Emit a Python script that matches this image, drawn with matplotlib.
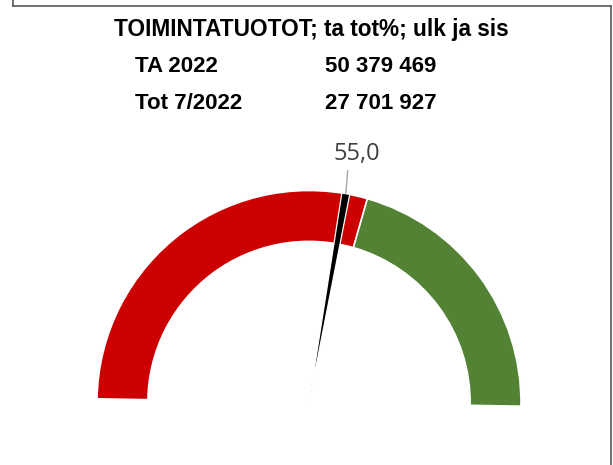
import matplotlib.pyplot as plt
import numpy as np
from matplotlib.lines import Line2D

# gauge data
title = 'TOIMINTATUOTOT; ta tot%; ulk ja sis'
row_labels = ['TA 2022', 'Tot 7/2022']
row_values = ['50 379 469', '27 701 927']
value = 55.0                      # tot% of budget
band_values = [58.33, 41.67]      # red up to 7/12 of the year, green after
band_colors = ['#CC0000', '#548235']
needle_width = 1.2

W, H = 613, 465
fig = plt.figure(figsize=(W / 100, H / 100), dpi=100)

# frame like the excel chart area
for xs, ys in [([13, 13], [0, 6]), ([13, 611], [6, 6]), ([611, 611], [6, 465])]:
    fig.add_artist(Line2D([x / W for x in xs], [1 - y / H for y in ys],
                          color='#595959', lw=1.2))

# header texts
fig.text(311 / W, 1 - 36 / H, title, ha='center', va='baseline',
         fontsize=16.3, fontweight='bold', family='Liberation Sans')
for i, (lab, val) in enumerate(zip(row_labels, row_values)):
    yb = 1 - (72.5 + i * 36) / H
    fig.text(135 / W, yb, lab, ha='left', va='baseline', fontsize=16,
             fontweight='bold', family='Liberation Sans')
    fig.text(325 / W, yb, val, ha='left', va='baseline', fontsize=16,
             fontweight='bold', family='Liberation Sans')

# gauge axes: 1 data unit = 212 px, centre at (309, 402.5)
R, cx, cy = 212, 309, 402.5
xlim, ylim = (-1.25, 1.25), (-0.29, 1.25)
ax = fig.add_axes([(cx + xlim[0] * R) / W, (H - cy + ylim[0] * R) / H,
                   (xlim[1] - xlim[0]) * R / W, (ylim[1] - ylim[0]) * R / H])

start = 179
ring = band_values + [sum(band_values)]
wedges, _ = ax.pie(ring, colors=band_colors + ['white'], startangle=start,
                   counterclock=False, radius=1.0,
                   wedgeprops=dict(width=0.24, edgecolor='white', linewidth=1.2))
wedges[-1].set_visible(False)

# needle = thin pie slice, like the excel trick
needle = [value - needle_width / 2, needle_width,
          2 * sum(band_values) - value - needle_width / 2]
nw, _ = ax.pie(needle, colors=['white', 'black', 'white'], startangle=start,
               counterclock=False, radius=1.0,
               wedgeprops=dict(edgecolor='white', linewidth=0.9))
nw[0].set_visible(False)
nw[2].set_visible(False)

ax.set_aspect('auto')
ax.set_xlim(*xlim)
ax.set_ylim(*ylim)
ax.axis('off')

# data label with leader line
ang = np.deg2rad(start - value / sum(band_values) * 180)
tip = (np.cos(ang), np.sin(ang))
ax.annotate(f'{value:.1f}'.replace('.', ','), xy=tip,
            xytext=(0.226, 1.17), ha='center', va='center',
            fontsize=17, color='#404040', family='Open Sans',
            arrowprops=dict(arrowstyle='-', color='#A6A6A6', lw=1,
                            relpos=(0.31, 0), shrinkA=1, shrinkB=0))

fig.savefig('out.png', dpi=100)
